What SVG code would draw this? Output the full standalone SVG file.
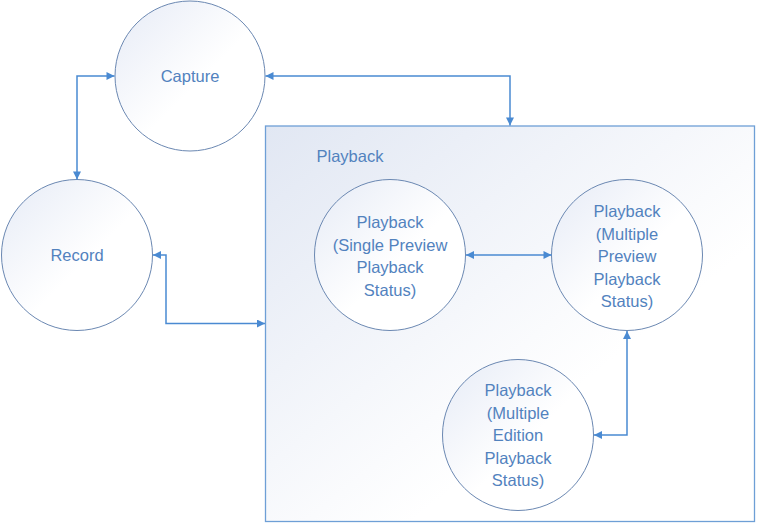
<svg xmlns="http://www.w3.org/2000/svg" width="757" height="523" viewBox="0 0 757 523">
<defs>
<linearGradient id="cg" x1="0" y1="0" x2="1" y2="1">
<stop offset="0" stop-color="#e6ebf6"/>
<stop offset="0.55" stop-color="#ffffff"/>
<stop offset="1" stop-color="#ffffff"/>
</linearGradient>
<linearGradient id="rg" x1="0" y1="0" x2="1" y2="1">
<stop offset="0" stop-color="#e1e7f3"/>
<stop offset="0.65" stop-color="#ffffff"/>
<stop offset="1" stop-color="#ffffff"/>
</linearGradient>
<marker id="ah" viewBox="0 0 10 10" refX="10" refY="5" markerWidth="9" markerHeight="8" markerUnits="userSpaceOnUse" orient="auto-start-reverse">
<path d="M0,0 L10,5 L0,10 z" fill="#4a8ad2"/>
</marker>
<style>
.node{fill:url(#cg);stroke:#6b88b2;stroke-width:1}
.lbl{font-family:"Liberation Sans",Arial,sans-serif;font-size:16.5px;fill:#5282be;text-anchor:middle}
.conn{fill:none;stroke:#4a8ad2;stroke-width:1.5;marker-start:url(#ah);marker-end:url(#ah)}
</style>
</defs>
<g id="playback-group">
<rect x="265.5" y="126" width="489" height="395.5" fill="url(#rg)" stroke="#6e9fd6" stroke-width="1.3"/>
<text class="lbl" x="350" y="162">Playback</text>
</g>
<g id="capture">
<circle class="node" cx="190" cy="76" r="75"/>
<text class="lbl" x="190" y="82">Capture</text>
</g>
<g id="record">
<circle class="node" cx="77" cy="255" r="75.5"/>
<text class="lbl" x="77" y="261">Record</text>
</g>
<g id="single-preview">
<circle class="node" cx="390" cy="255" r="75.5"/>
<text class="lbl" x="390"><tspan x="390" y="228">Playback</tspan><tspan x="390" y="250.5">(Single Preview</tspan><tspan x="390" y="273">Playback</tspan><tspan x="390" y="295.5">Status)</tspan></text>
</g>
<g id="multiple-preview">
<circle class="node" cx="627" cy="255" r="75.5"/>
<text class="lbl" x="627"><tspan x="627" y="217">Playback</tspan><tspan x="627" y="239.5">(Multiple</tspan><tspan x="627" y="262">Preview</tspan><tspan x="627" y="284.5">Playback</tspan><tspan x="627" y="307">Status)</tspan></text>
</g>
<g id="multiple-edition">
<circle class="node" cx="518" cy="435" r="75.5"/>
<text class="lbl" x="518"><tspan x="518" y="396">Playback</tspan><tspan x="518" y="418.5">(Multiple</tspan><tspan x="518" y="441">Edition</tspan><tspan x="518" y="463.5">Playback</tspan><tspan x="518" y="486">Status)</tspan></text>
</g>
<g id="connectors">
<path class="conn" d="M77,179.5 L77,76 L114.5,76"/>
<path class="conn" d="M265.5,76 L510,76 L510,125.5"/>
<path class="conn" d="M153,255 L166,255 L166,323.5 L265,323.5"/>
<path class="conn" d="M466,255 L551.5,255"/>
<path class="conn" d="M627,331 L627,435 L594,435"/>
</g>
</svg>
